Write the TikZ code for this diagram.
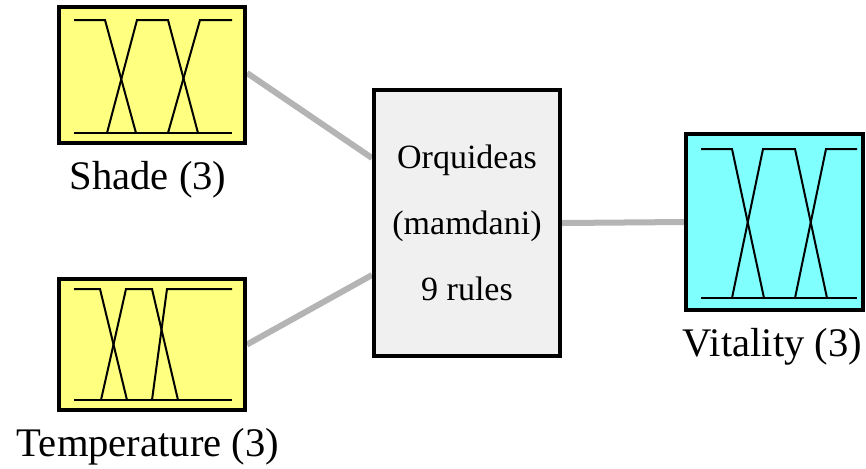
\documentclass[tikz,border=0pt]{standalone}
\usepackage{fontspec}
\setmainfont{Liberation Serif}
\usetikzlibrary{positioning,backgrounds}
\definecolor{mfyellow}{RGB}{255,255,128}
\definecolor{mfcyan}{RGB}{128,255,255}
\definecolor{fisgray}{RGB}{240,240,240}
\definecolor{linkgray}{RGB}{180,180,180}
\tikzset{
  varbox/.style={draw,line width=2pt,inner sep=0pt},
  mf/.style={line width=1pt},
  link/.style={draw=linkgray,line width=3pt},
  varlabel/.style={font=\fontsize{20.3}{24}\selectfont,anchor=base,inner sep=0pt},
}
\begin{document}
\begin{tikzpicture}[x=0.5pt,y=-0.5pt]
        \useasboundingbox (0,0) rectangle (866,468);
        \node[varbox,fill=mfyellow,minimum width=93pt,minimum height=68pt] (shade) at (152,75) {};
        \node[varbox,fill=mfyellow,minimum width=93pt,minimum height=65.5pt] (temp) at (152,344.5) {};
        \node[varbox,fill=mfcyan,minimum width=88.5pt,minimum height=88pt] (vit) at (774.5,222) {};
        \node[varbox,fill=fisgray,minimum width=93pt,minimum height=133pt,align=center,
              font=\fontsize{17}{33}\selectfont] (fis) at (467,223) {Orquideas\\(mamdani)\\9 rules};
        \node[varlabel] (shadelbl) at ([yshift=-22pt,xshift=-2pt]shade.south) {Shade (3)};
        \node[varlabel] (templbl) at ([yshift=-22pt,xshift=-2pt]temp.south) {Temperature (3)};
        \node[varlabel] (vitlbl) at ([yshift=-22pt,xshift=-1pt]vit.south) {Vitality (3)};
        % membership functions
        \draw[mf] (74,133) -- (232,133);
        \draw[mf] (74,20) -- (105,20) -- (136,133);
        \draw[mf] (107,133) -- (137,20) -- (168,20) -- (198,133);
        \draw[mf] (168,133) -- (200,20) -- (232,20);
        \draw[mf] (74,400) -- (232,400);
        \draw[mf] (74,289) -- (100,289) -- (127,400);
        \draw[mf] (101,400) -- (126,289) -- (152,289) -- (178,400);
        \draw[mf] (152,400) -- (167,289) -- (232,289);
        \draw[mf] (701,298) -- (857,298);
        \draw[mf] (701,149) -- (732,149) -- (764,298);
        \draw[mf] (732,298) -- (763,149) -- (795,149) -- (827,298);
        \draw[mf] (795,298) -- (826,149) -- (857,149);
        \begin{scope}[on background layer]
        \draw[link] ([yshift=1pt]shade.east) -- ([yshift=32.5pt]fis.west);
        \draw[link] (temp.east) -- ([yshift=-26pt]fis.west);
        \draw[link] (fis.east) -- (vit.west);
        \end{scope}
\end{tikzpicture}
\end{document}
